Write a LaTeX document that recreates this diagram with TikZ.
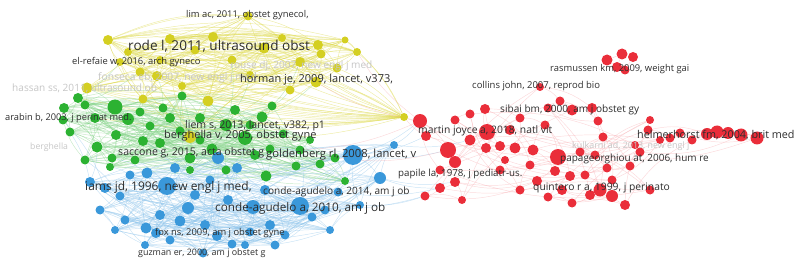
\documentclass[tikz,border=0pt]{standalone}
\usepackage{fontspec}
\setmainfont{Open Sans}
\usepackage{xcolor}
\pgfdeclarelayer{edges}
\pgfsetlayers{edges,main}

\definecolor{ycol}{RGB}{212,207,34}
\definecolor{gcol}{RGB}{44,178,50}
\definecolor{bcol}{RGB}{58,152,218}
\definecolor{rcol}{RGB}{234,46,58}
\definecolor{labtext}{RGB}{45,45,45}
\definecolor{fainttext}{RGB}{198,198,198}

\begin{document}
\begin{tikzpicture}[
  x=0.3mm, y=-0.3mm,
  dot/.style={circle, inner sep=0pt, draw=none},
  ycirc/.style={dot, fill=ycol},
  gcirc/.style={dot, fill=gcol},
  bcirc/.style={dot, fill=bcol},
  rcirc/.style={dot, fill=rcol},
  yline/.style={draw=ycol!80, opacity=0.5, line width=0.4pt},
  gline/.style={draw=gcol!60, opacity=0.45, line width=0.4pt},
  bline/.style={draw=bcol!60, opacity=0.45, line width=0.4pt},
  rline/.style={draw=rcol!45, opacity=0.4, line width=0.4pt},
  lbl/.style={font=\fontsize{#1}{#1}\selectfont, text=labtext, inner sep=0pt, anchor=west},
  faint/.style={lbl=#1, text=fainttext}
]
\useasboundingbox (0,0) rectangle (800,262);

% Yellow cluster
\foreach \x/\y/\d [count=\i] in {108/40/10, 248/16/9, 170/39/10, 213/37/10, 264/48/11,
    318/45/10, 321/54/9, 357/52/8, 300/62/10, 337/68/9, 316/82/11, 404/117/8,
    87/88/11, 140/72/9, 157/76/10, 143/99/9, 208/101/11, 190/137/12, 128/52/8,
    232/60/9, 282/38/8, 182/86/8, 195/50/9, 250/75/8, 120/62/8, 290/90/9,
    345/40/7, 160/60/8}
  \node[ycirc, minimum size=\d*0.3mm] (y\i) at (\x,\y) {};

% Green cluster
\foreach \x/\y/\d [count=\i] in {78/98/10, 64/108/10, 115/107/15, 128/119/12, 63/120/9,
    70/132/9, 163/108/9, 182/96/9, 200/118/10, 226/125/12, 262/117/11, 272/106/9,
    245/138/14, 212/149/11, 190/158/11, 160/143/10, 143/141/10, 116/135/10, 97/147/11,
    112/158/9, 110/167/8, 270/149/9, 300/150/9, 320/164/9, 296/166/9, 266/176/11,
    335/158/9, 345/181/8, 226/170/9, 150/126/9, 180/131/9, 283/134/9, 95/118/10,
    85/105/9, 170/118/10, 235/110/10, 255/155/10, 200/140/9, 135/160/9, 85/160/9,
    250/125/9, 310/140/8, 190/170/8, 140/112/9}
  \node[gcirc, minimum size=\d*0.3mm] (g\i) at (\x,\y) {};

% Blue cluster
\foreach \x/\y/\d [count=\i] in {167/186/18, 353/155/20, 380/178/12, 394/145/8, 300/206/18,
    253/207/14, 188/208/12, 146/228/11, 156/233/10, 203/253/9, 217/236/10, 232/244/9,
    90/182/10, 105/188/10, 218/158/12, 175/168/10, 147/173/11, 237/168/10, 338/192/9,
    312/217/9, 180/221/11, 205/225/10, 250/232/9, 270/225/10, 160/215/10, 120/196/9,
    228/200/10, 245/245/8, 275/245/9, 325/210/9, 130/175/9, 145/245/8, 100/210/9,
    125/220/9, 170/240/9, 195/195/10, 265/190/10, 285/235/9, 210/180/9, 115/230/8,
    330/230/8, 360/205/8}
  \node[bcirc, minimum size=\d*0.3mm] (b\i) at (\x,\y) {};

% Red cluster
\foreach \x/\y/\d [count=\i] in {420/121/14, 426/136/10, 448/150/16, 455/162/12, 487/132/16,
    486/148/10, 500/146/10, 485/109/10, 520/118/9, 515/148/11, 533/150/11, 545/125/9,
    558/157/16, 555/171/10, 570/176/10, 537/181/10, 455/182/10, 440/188/10, 425/196/9,
    462/200/8, 540/87/8, 560/101/9, 572/110/11, 592/108/10, 598/121/9, 548/108/9,
    600/190/13, 612/196/12, 590/195/10, 562/190/10, 548/197/9, 572/203/9, 625/205/10,
    648/130/9, 670/138/9, 692/140/9, 707/134/12, 717/132/13, 728/133/12, 741/135/13,
    757/138/13, 680/133/9, 640/152/9, 580/152/9, 603/137/9, 630/166/9, 607/168/9,
    500/170/9, 505/160/8, 455/120/9, 470/114/9, 635/145/8, 520/190/9, 470/140/11,
    510/130/10, 530/165/9, 595/155/9, 650/190/9, 585/175/9, 650/120/8, 440/170/9,
    660/140/8, 612/180/9}
  \node[rcirc, minimum size=\d*0.3mm] (r\i) at (\x,\y) {};

% Small red group up right
\foreach \x/\y/\d [count=\i] in {607/60/11, 622/54/11, 633/57/10, 617/67/10, 625/70/9}
  \node[rcirc, minimum size=\d*0.3mm] (m\i) at (\x,\y) {};

% Links, behind the circles
\begin{pgfonlayer}{edges}
\foreach \n/\cnt/\ecol in {y/28/yline, g/44/gline, b/42/bline} {
  \foreach \i in {1,...,\cnt} {
    \foreach \k in {1,2,4,7,9,13,17} {
      \pgfmathtruncatemacro{\j}{mod(\i+\k-1,\cnt)+1}
      \draw[\ecol] (\n\i) to[bend left=12] (\n\j);
    }
  }
}
\foreach \i in {1,...,63} {
  \foreach \k in {1,3} {
    \pgfmathtruncatemacro{\j}{mod(\i+\k-1,63)+1}
    \draw[rline] (r\i) to[bend left=15] (r\j);
  }
}
\foreach \a/\b in {m1/m2, m2/m3, m3/m5, m1/m4, m4/m5, m2/m4}
  \draw[rline] (\a) -- (\b);
% long yellow fan towards the right
\foreach \a/\b in {y1/y12, y3/y12, y4/y12, y5/y12, y9/y12, y11/y12, y13/y12, y14/y12,
    y17/y12, y22/y12, y19/y10, y25/y12, y28/y12, y26/y12, g3/y12, g11/y12, g13/y12,
    g1/y12, g33/y12}
  \draw[yline] (\a) to[bend right=8] (\b);
\foreach \a/\b in {y1/y6, y1/y8, y1/y2, y19/y21, y3/y8, y1/y27, y19/y6}
  \draw[yline] (\a) to[bend left=14] (\b);
% yellow and green
\foreach \a/\b in {y13/g1, y13/g3, y16/g3, y16/g4, y17/g9, y17/g10, y18/g13, y18/g14,
    y22/g8, y15/g7, y11/g11, y9/g12, y14/g2, y20/g10, y19/g1, y18/g16, y18/g31,
    y16/g44, y13/g34, y26/g12, y24/g36}
  \draw[gline] (\a) to[bend left=10] (\b);
% green and blue
\foreach \a/\b in {g19/b13, g20/b17, g15/b1, g14/b15, g13/b18, g25/b2, g24/b2, g27/b2,
    g28/b3, g26/b6, g29/b27, g21/b31, g17/b16, g22/b2, g23/b5, g6/b13, g40/b26,
    g5/b14, g39/b1, g43/b37, g37/b39}
  \draw[bline] (\a) to[bend left=10] (\b);
% towards the red cluster
\foreach \a/\b in {b2/r1, b2/r3, b4/r1, b3/r18, b3/r17, b19/r18, b5/r19, b2/r2,
    b42/r19, b4/r54}
  \draw[bline] (\a) to[bend right=10] (\b);
\foreach \a/\b in {y12/r1, y12/r2, y11/r1, g23/r1, g27/r3, y8/r1}
  \draw[rline] (\a) to[bend right=10] (\b);
\end{pgfonlayer}

% Faint labels
\node[faint=8.6] (hassan) at (12,88) {hassan ss, 2011, ultrasound ob};
\node[faint=8.8] (fonseca) at (98,78) {fonseca eb, 2007, new engl j med};
\node[faint=8.6] (rouse) at (230,66) {rouse dj, 2007, new engl j med};
\node[faint=7.4] (berg) at (30,147) {berghella};
\node[faint=7.6] (kulkarni) at (572,146) {kulkarni ad, 2013, new engl j};

% Labels
\node[lbl=8] (limac) at (186,15) {lim ac, 2011, obstet gynecol,};
\node[lbl=11.6] (rode) at (128,46) {rode l, 2011, ultrasound obst};
\node[lbl=8] (elrefaie) at (72,62) {el-refaie w, 2016, arch gyneco};
\node[lbl=9.4] (horman) at (240,80) {horman je, 2009, lancet, v373,};
\node[lbl=7.9] (arabin) at (5,118) {arabin b, 2003, j perinat med.};
\node[lbl=9] (liem) at (185,126) {liem s, 2013, lancet, v382, p1};
\node[lbl=9.4] (berghella) at (164,136) {berghella v, 2005, obstet gyne};
\node[lbl=9] (saccone) at (118,153) {saccone g, 2015, acta obstet g};
\node[lbl=9.6] (goldenberg) at (266,155) {goldenberg rl, 2008, lancet, v};
\node[lbl=10.2] (iams) at (85,187) {iams jd, 1996, new engl j med,};
\node[lbl=8.6] (conde14) at (263,192) {conde-agudelo a, 2014, am j ob};
\node[lbl=10] (conde10) at (215,208) {conde-agudelo a, 2010, am j ob};
\node[lbl=8] (fox) at (155,233) {fox ns, 2009, am j obstet gyne};
\node[lbl=7.6] (guzman) at (138,253) {guzman er, 2000, am j obstet g};
\node[lbl=8.3] (papile) at (398,174) {papile la, 1978, j pediatr-us.};
\node[lbl=8.8] (martin) at (418,131) {martin joyce a, 2018, natl vit};
\node[lbl=8.6] (sibai) at (500,110) {sibai bm, 2000, am j obstet gy};
\node[lbl=8.1] (collins) at (472,86) {collins john, 2007, reprod bio};
\node[lbl=8] (rasmussen) at (550,69) {rasmussen km, 2009, weight gai};
\node[lbl=9.2] (helmerhorst) at (637,135) {helmerhorst fm, 2004, brit med};
\node[lbl=8.5] (papageorghiou) at (560,159) {papageorghiou at, 2006, hum re};
\node[lbl=8.8] (quintero) at (533,188) {quintero r a, 1999, j perinato};

\end{tikzpicture}
\end{document}
